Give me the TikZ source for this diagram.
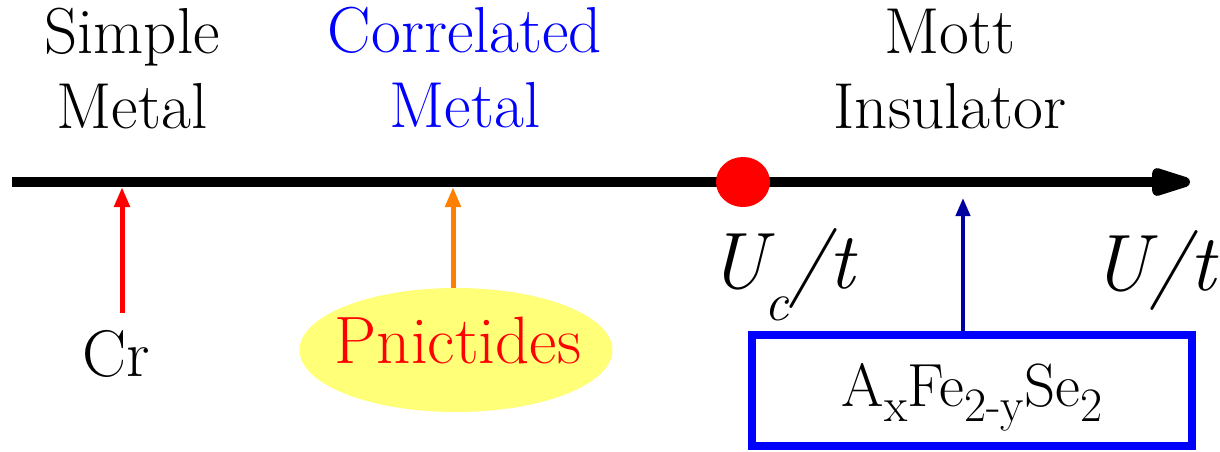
\documentclass[tikz,border=0pt]{standalone}
\usetikzlibrary{arrows.meta,shapes.geometric}
\definecolor{cblue}{RGB}{0,0,255}
\definecolor{navyarrow}{RGB}{0,0,160}
\definecolor{orangearrow}{RGB}{255,128,0}
\definecolor{yellowfill}{RGB}{255,255,120}
\newcommand{\fs}[1]{\fontsize{#1}{#1}\selectfont}
\newcommand{\lowsub}[2]{\raisebox{-#1pt}{\fs{48}#2}}
\tikzset{
  lbl/.style={inner sep=0pt, anchor=base, align=center, font=\fontsize{65}{75}\selectfont},
  pointer/.style={line width=5pt, -{Triangle[length=20pt,width=15pt]}},
}
\begin{document}
\begin{tikzpicture}[x=1pt,y=-1pt]
\useasboundingbox (0,0) rectangle (1220,451);
% axis
\coordinate (axstart) at (12,182);
\coordinate (axend) at (1190,182);
\draw[line width=10pt, -{Triangle[length=52pt,width=28pt,round]}] (axstart) -- (axend);
% critical point
\node[ellipse, fill=red, minimum width=54pt, minimum height=50pt, inner sep=0pt] (uc) at (743,182) {};
% top labels (base = baseline of last line)
\node[lbl] (simple) at (132,128) {Simple\\Metal};
\node[lbl, text=cblue] (corr) at (465,127) {Correlated\\Metal};
\node[lbl] (mott) at (950,128) {Mott\\Insulator};
% axis labels
\node[inner sep=0pt, anchor=base west, font=\fs{80}\itshape] (uclbl) at (708,288) {U\kern-2pt\raisebox{-32pt}{\fs{54}c}/t};
\node[inner sep=0pt, anchor=base east, font=\fs{80}\itshape] (ult) at (1216,290) {U/t};
% Cr
\coordinate (crtip) at (122,187);
\node[inner sep=0pt, anchor=base, font=\fs{66}] (cr) at (116,376) {Cr};
\coordinate (crbot) at (122,313);
\draw[pointer, red] (crbot) -- (crtip);
% Pnictides
\node[ellipse, fill=yellowfill, minimum width=313pt, minimum height=124pt, inner sep=0pt] (pnic) at (456,350) {};
\node[inner sep=0pt, anchor=base, font=\fs{67}, text=red] (pnictxt) at (458,363) {Pnictides};
\coordinate (pntip) at (453,187);
\draw[pointer, orangearrow] (pnic.north -| pntip) -- (pntip);
% AxFe2-ySe2 box
\node[draw=cblue, line width=8pt, minimum width=440pt, minimum height=111pt, inner sep=0pt] (box) at (971.5,390.5) {};
\node[inner sep=0pt, anchor=base, font=\fs{61}] (boxtxt) at (972,406) {A\lowsub{15}{x}Fe\lowsub{15}{2-y}Se\lowsub{15}{2}};
\coordinate (bltip) at (963,198);
\draw[pointer, navyarrow, line width=4pt, -{Triangle[length=18pt,width=14pt]}] (box.north -| bltip) -- (bltip);
\end{tikzpicture}
\end{document}
